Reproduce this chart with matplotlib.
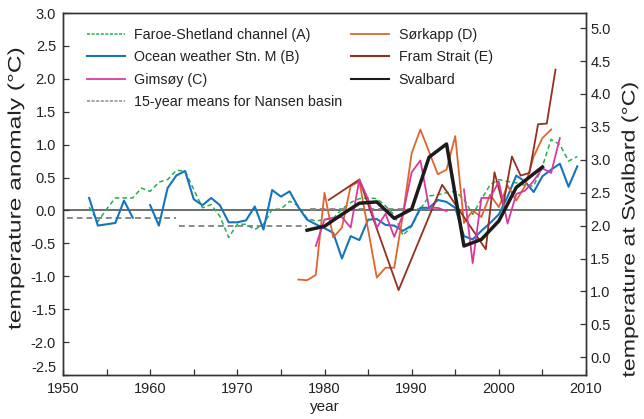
import numpy as np
import matplotlib
matplotlib.use("Agg")
import matplotlib.pyplot as plt
from matplotlib.lines import Line2D
from matplotlib.ticker import MultipleLocator, FormatStrFormatter
from matplotlib.patheffects import AbstractPathEffect
from matplotlib.transforms import Affine2D

plt.rcParams['font.family'] = ['Liberation Sans', 'DejaVu Sans']
plt.rcParams['axes.unicode_minus'] = False

# Faroe-Shetland channel (A), annual anomalies
faroe_years = list(range(1953, 2010))
faroe_vals = [0.05, -0.17, 0.02, 0.19, 0.19, 0.19, 0.34, 0.29, 0.43, 0.47,
              0.61, 0.60, 0.32, 0.04, 0.09, -0.09, -0.41, -0.21, -0.21, -0.29,
              -0.21, 0.02, 0.02, 0.14, 0.07, -0.12, -0.16, -0.14, -0.12, 0.02,
              0.12, 0.18, 0.19, 0.18, 0.07, -0.07, -0.38, -0.24, 0.02, 0.22,
              0.24, 0.27, 0.29, 0.17, -0.06, 0.17, 0.39, 0.47, 0.44, 0.42,
              0.38, 0.37, 0.67, 1.08, 1.00, 0.75, 0.82]

# Ocean weather station M (B); 1959 missing
stnm_years = list(range(1953, 2010))
stnm_vals = [0.19, -0.23, -0.21, -0.19, 0.15, -0.11, np.nan, 0.08, -0.23, 0.34,
             0.53, 0.60, 0.17, 0.08, 0.19, 0.08, -0.18, -0.18, -0.15, 0.06,
             -0.29, 0.31, 0.21, 0.29, 0.05, -0.14, -0.21, -0.27, -0.34, -0.73,
             -0.39, -0.45, -0.14, -0.13, -0.22, -0.23, -0.31, -0.23, 0.04, 0.04,
             0.16, 0.13, 0.04, -0.39, -0.44, -0.31, -0.19, -0.06, 0.21, 0.53,
             0.44, 0.28, 0.52, 0.62, 0.71, 0.36, 0.67]

# Gimsøy (C); 1995 missing
gims_years = list(range(1979, 2008))
gims_vals = [-0.54, -0.14, -0.11, -0.10, -0.26, 0.47, 0.17, -0.26, -0.05, -0.40,
             -0.06, 0.58, 0.76, 0.04, 0.04, -0.01, np.nan, 0.32, -0.80, 0.19,
             0.19, 0.44, -0.20, 0.25, 0.30, 0.45, 0.64, 0.57, 1.10]

# Sørkapp (D)
sork_years = [1977, 1978, 1979, 1980, 1981, 1982, 1983, 1984, 1986, 1987,
              1988, 1989, 1990, 1991, 1993, 1994, 1995, 1996, 1997, 1998,
              1999, 2000, 2001, 2002, 2003, 2004, 2005, 2006]
sork_vals = [-1.05, -1.06, -0.98, 0.27, -0.41, -0.26, 0.37, 0.44, -1.02, -0.87,
             -0.87, -0.06, 0.87, 1.23, 0.55, 0.62, 1.13, -0.19, 0.00, -0.10,
             0.24, 0.05, 0.38, 0.15, 0.37, 0.82, 1.10, 1.23]

# Fram Strait (E), survey means
fram_years = [1980.5, 1984.0, 1988.5, 1993.5, 1998.5, 1999.5, 2000.5, 2001.5,
              2002.5, 2003.5, 2004.5, 2005.5, 2006.5]
fram_vals = [0.16, 0.47, -1.21, 0.39, -0.59, 0.58, 0.08, 0.82,
             0.53, 0.57, 1.31, 1.32, 2.14]

# Svalbard air temperature (right axis)
sval_years = [1978, 1980, 1982, 1984, 1986, 1988, 1990, 1992, 1994, 1996,
              1998, 2000, 2002, 2005]
sval_temp = [1.93, 1.99, 2.17, 2.34, 2.36, 2.11, 2.25, 3.04, 3.24, 1.69,
             1.79, 2.07, 2.58, 2.89]
SVAL_REF = 2.23  # Svalbard temperature corresponding to zero anomaly

# 15-year means for the Nansen basin
nansen_start = [1950.5, 1963.3, 1978.3]
nansen_end = [1963.0, 1978.0, 1993.0]
nansen_vals = [-0.12, -0.24, 0.02]

C_GREEN = '#22b24c'
C_BLUE = '#1475bf'
C_PINK = '#d9399f'
C_ORANGE = '#e0642c'
C_BROWN = '#93301f'
C_BLACK = '#1c1c1c'
C_GRAY = '#8a8a8a'
C_AXIS = '#333333'
C_TEXT = '#222222'


class Stretch(AbstractPathEffect):
    """Lengthen glyph runs along their baseline, keeping the run centred."""

    def __init__(self, factor):
        super().__init__()
        self.factor = factor

    def draw_path(self, renderer, gc, tpath, affine, rgbFace=None):
        ext = tpath.get_extents()
        cx = 0.5 * (ext.x0 + ext.x1)
        pre = Affine2D().translate(-cx, 0).scale(self.factor, 1).translate(cx, 0)
        renderer.draw_path(gc, tpath, pre + affine, rgbFace)


W, H = 644, 419
fig = plt.figure(figsize=(W / 100, H / 100), dpi=100)
ax = fig.add_axes([63 / W, 1 - 375 / H, (586 - 63) / W, (375 - 13) / H])
ax2 = ax.twinx()

ax.axhline(0, color='#555555', lw=1.2, zorder=1)

for s, e, v in zip(nansen_start, nansen_end, nansen_vals):
    ax.plot([s, e], [v, v], color=C_GRAY, lw=1.4, ls=(0, (3, 2)), zorder=2)

ax.plot(faroe_years, faroe_vals, color=C_GREEN, lw=1.1, ls=(0, (3, 2)), zorder=3)
ax.plot(stnm_years, stnm_vals, color=C_BLUE, lw=1.5, zorder=4)
ax.plot(sork_years, sork_vals, color=C_ORANGE, lw=1.3, zorder=5)
ax.plot(fram_years, fram_vals, color=C_BROWN, lw=1.3, zorder=5)
ax.plot(gims_years, gims_vals, color=C_PINK, lw=1.3, zorder=6)
ax2.plot(sval_years, sval_temp, color=C_BLACK, lw=2.5, zorder=7)

ax.set_xlim(1950, 2010)
ax.set_ylim(-2.5, 3.0)
ax2.set_ylim(-2.5 + SVAL_REF, 3.0 + SVAL_REF)

ax.xaxis.set_major_locator(MultipleLocator(10))
ax.xaxis.set_minor_locator(MultipleLocator(5))
ax.yaxis.set_major_locator(MultipleLocator(0.5))
ax.yaxis.set_major_formatter(FormatStrFormatter('%.1f'))
ax2.set_yticks(np.arange(0, 5.01, 0.5))
ax2.yaxis.set_major_formatter(FormatStrFormatter('%.1f'))

for a in (ax, ax2):
    for sp in a.spines.values():
        sp.set_color(C_AXIS)
        sp.set_linewidth(1.0)
ax.tick_params(axis='both', which='both', direction='in', length=4, width=0.9,
               color=C_AXIS, labelsize=10.5, labelcolor=C_TEXT)
ax.tick_params(axis='x', pad=5)
ax.tick_params(axis='y', pad=5)
ax2.tick_params(axis='y', direction='in', length=4, width=0.9, color=C_AXIS,
                labelsize=10.5, labelcolor=C_TEXT, pad=3)

# the lowest left tick label sits just above the corner
fig.canvas.draw()
for lab in ax.get_yticklabels():
    if lab.get_text() == '-2.5':
        lab.set_verticalalignment('bottom')

ax.set_xlabel('year', fontsize=11, labelpad=3, color=C_TEXT)

fig.text(16 / W, 1 - 189 / H, 'temperature anomaly (°C)', rotation=90,
         ha='center', va='center', fontsize=13, color=C_TEXT,
         path_effects=[Stretch(1.36)])
fig.text(630 / W, 1 - 230 / H, 'temperature at Svalbard (°C)', rotation=90,
         ha='center', va='center', fontsize=13, color=C_TEXT,
         path_effects=[Stretch(1.28)])

handles = [
    Line2D([], [], color=C_GREEN, lw=1.1, ls=(0, (2, 1))),
    Line2D([], [], color=C_BLUE, lw=1.5),
    Line2D([], [], color=C_PINK, lw=1.3),
    Line2D([], [], color=C_GRAY, lw=1.1, ls=(0, (2, 1))),
    Line2D([], [], color=C_ORANGE, lw=1.3),
    Line2D([], [], color=C_BROWN, lw=1.5),
    Line2D([], [], color=C_BLACK, lw=1.5),
]
labels = ['Faroe-Shetland channel (A)', 'Ocean weather Stn. M (B)', 'Gimsøy (C)',
          '15-year means for Nansen basin', 'Sørkapp (D)', 'Fram Strait (E)', 'Svalbard']
leg = ax2.legend(handles, labels, ncol=2, loc='upper left', bbox_to_anchor=(0.045, 0.958),
                 frameon=False, fontsize=10.3, handlelength=2.7, handletextpad=0.65,
                 columnspacing=0.55, labelspacing=0.57, borderaxespad=0, borderpad=0)
for t in leg.get_texts():
    t.set_color(C_TEXT)

fig.savefig('out.png', dpi=100)
